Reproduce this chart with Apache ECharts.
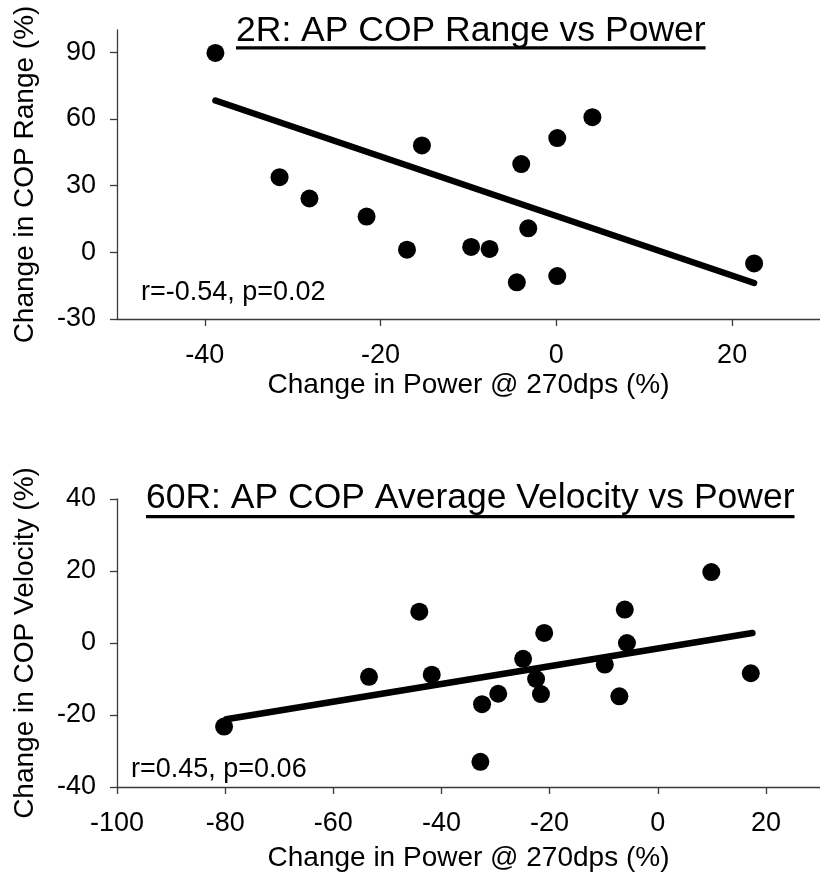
<!DOCTYPE html>
<html>
<head>
<meta charset="utf-8">
<script src="https://cdn.jsdelivr.net/npm/echarts@6.0.0/dist/echarts.min.js"></script>
<style>
html,body{margin:0;padding:0;background:#fff;}
#c{width:820px;height:873px;}
</style>
</head>
<body>
<div id="c"></div>
<script>
// ---- Data ----
const topTitle = '2R: AP COP Range vs Power';
const topPower = [-38.8, -31.5, -28.1, -21.6, -17.0, -15.3, -9.7, -7.6, -4.5, -4.0, -3.2, 0.1, 0.1, 4.1, 22.5];
const topRange = [89.7, 33.8, 24.2, 16.1, 1.2, 48.1, 2.4, 1.5, -13.5, 39.7, 10.8, 51.4, -10.7, 60.8, -5.0];
const topTrendX = [-38.8, 22.5];
const topTrendY = [68.3, -13.8];
const topXTicks = [-40, -20, 0, 20];
const topYTicks = [-30, 0, 30, 60, 90];
const topStat = 'r=-0.54, p=0.02';

const botTitle = '60R: AP COP Average Velocity vs Power';
const botPower = [-80.2, -53.4, -44.1, -41.8, -32.5, -32.8, -29.5, -24.9, -22.5, -21.6, -21.0, -9.8, -7.1, -6.1, -5.7, 9.9, 17.2];
const botVelocity = [-23.2, -9.4, 8.7, -8.8, -17.0, -33.0, -14.1, -4.4, -10.0, -14.2, 2.8, -6.0, -14.8, 9.3, 0.0, 19.7, -8.4];
const botTrendX = [-79.8, 17.5];
const botTrendY = [-21.2, 2.8];
const botXTicks = [-100, -80, -60, -40, -20, 0, 20];
const botYTicks = [-40, -20, 0, 20, 40];
const botStat = 'r=0.45, p=0.06';

const xName = 'Change in Power @ 270dps (%)';
const topYName = 'Change in COP Range (%)';
const botYName = 'Change in COP Velocity (%)';

// ---- Build ----
const FONT = "'Liberation Sans', Arial, sans-serif";
const zip = (a, b) => a.map((v, i) => [v, b[i]]);
const axisLineStyle = {color: '#3a3a3a', width: 1.3};

function xAxisOf(gi, min, max, ticks, gap) {
  return {
    gridIndex: gi, type: 'value', min: min, max: max,
    name: xName, nameLocation: 'middle', nameGap: gap,
    nameTextStyle: {fontFamily: FONT, fontSize: 28, color: '#000'},
    axisLine: {show: true, onZero: false, lineStyle: axisLineStyle},
    axisTick: {show: true, length: 7, customValues: ticks, lineStyle: axisLineStyle},
    axisLabel: {customValues: ticks, margin: 23, fontFamily: FONT, fontSize: 27, color: '#000'},
    splitLine: {show: false}
  };
}
function yAxisOf(gi, min, max, ticks, name) {
  return {
    gridIndex: gi, type: 'value', min: min, max: max,
    name: name, nameLocation: 'middle', nameGap: 78,
    nameTextStyle: {fontFamily: FONT, fontSize: 28, color: '#000'},
    axisLine: {show: true, onZero: false, lineStyle: axisLineStyle},
    axisTick: {show: true, length: 7, customValues: ticks, lineStyle: axisLineStyle},
    axisLabel: {customValues: ticks, margin: 21, fontFamily: FONT, fontSize: 27, color: '#000'},
    splitLine: {show: false}
  };
}

const chart = echarts.init(document.getElementById('c'), null, {renderer: 'canvas'});

const titleSize = 35.5;
const ctx = document.createElement('canvas').getContext('2d');
ctx.font = titleSize + "px " + FONT;
const topTitleW = ctx.measureText(topTitle).width;
const botTitleW = ctx.measureText(botTitle).width;

chart.setOption({
  animation: false,
  backgroundColor: '#fff',
  title: [
    {text: topTitle, left: 236, top: 13.5, padding: 0,
     textStyle: {fontFamily: FONT, fontSize: titleSize, fontWeight: 'normal', color: '#000'}},
    {text: botTitle, left: 146, top: 480.7, padding: 0,
     textStyle: {fontFamily: FONT, fontSize: titleSize, fontWeight: 'normal', color: '#000'}}
  ],
  grid: [
    {left: 117, top: 30, width: 713, height: 289},
    {left: 117, top: 499, width: 713, height: 288}
  ],
  xAxis: [xAxisOf(0, -50, 30, topXTicks, 52), xAxisOf(1, -100, 30, botXTicks, 57)],
  yAxis: [yAxisOf(0, -30, 100, topYTicks, topYName), yAxisOf(1, -40, 40, botYTicks, botYName)],
  graphic: [
    {type: 'rect', shape: {x: 236, y: 46.3, width: topTitleW, height: 3.3}, style: {fill: '#000'}},
    {type: 'rect', shape: {x: 146, y: 515, width: botTitleW, height: 3.3}, style: {fill: '#000'}},
    {type: 'text', x: 141, y: 279, style: {text: topStat, font: "27px " + FONT, fill: '#000', verticalAlign: 'top'}},
    {type: 'text', x: 131, y: 756, style: {text: botStat, font: "27px " + FONT, fill: '#000', verticalAlign: 'top'}}
  ],
  series: [
    {type: 'line', xAxisIndex: 0, yAxisIndex: 0, data: zip(topTrendX, topTrendY), showSymbol: false, symbol: 'none',
     lineStyle: {color: '#000', width: 6.5, cap: 'round'}, z: 2},
    {type: 'scatter', xAxisIndex: 0, yAxisIndex: 0, data: zip(topPower, topRange), symbolSize: 18,
     itemStyle: {color: '#000', opacity: 1}, z: 3},
    {type: 'line', xAxisIndex: 1, yAxisIndex: 1, data: zip(botTrendX, botTrendY), showSymbol: false, symbol: 'none',
     lineStyle: {color: '#000', width: 6.5, cap: 'round'}, z: 2},
    {type: 'scatter', xAxisIndex: 1, yAxisIndex: 1, data: zip(botPower, botVelocity), symbolSize: 18,
     itemStyle: {color: '#000', opacity: 1}, z: 3}
  ]
});
</script>
</body>
</html>
